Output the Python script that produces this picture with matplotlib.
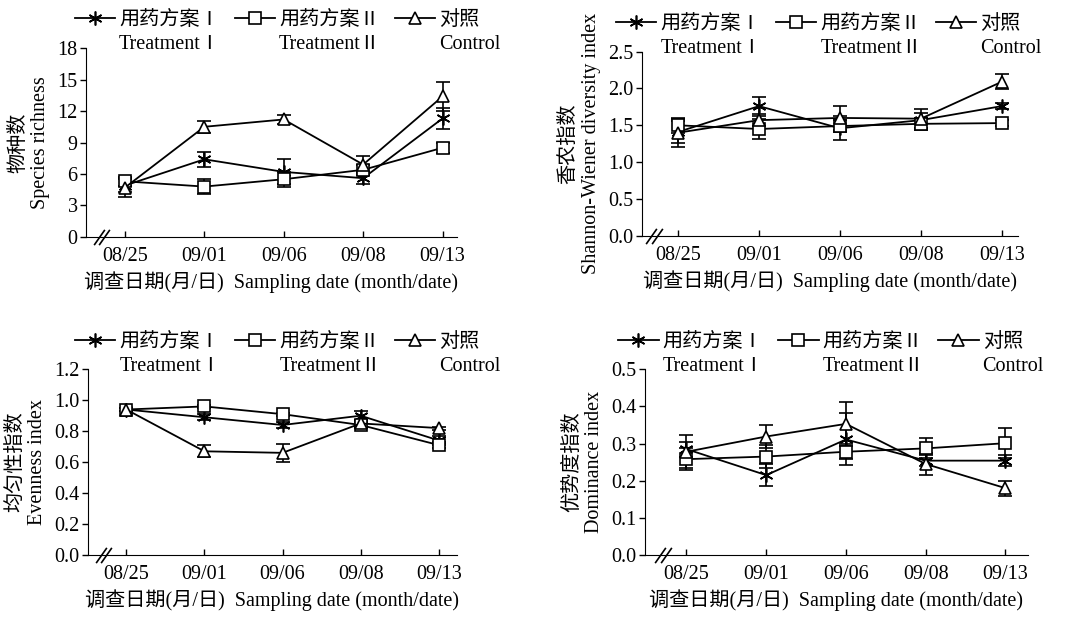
import numpy as np
import matplotlib
matplotlib.use("Agg")
import matplotlib.pyplot as plt
from matplotlib.ticker import FormatStrFormatter

plt.rcParams['font.family'] = ['Liberation Serif', 'Noto Sans CJK SC', 'DejaVu Sans']
plt.rcParams['font.size'] = 14.5

dates = ['08/25', '09/01', '09/06', '09/08', '09/13']
series_cn = ['用药方案Ⅰ', '用药方案Ⅱ', '对照']
series_en = ['TreatmentⅠ', 'TreatmentⅡ', 'Control']

# Species richness
rich_t1 = [4.9, 7.4, 6.2, 5.6, 11.3]
rich_t1_err = [0.6, 0.7, 1.2, 0.6, 1.0]
rich_t2 = [5.3, 4.8, 5.5, 6.4, 8.5]
rich_t2_err = [0.4, 0.7, 0.7, 0.5, 0.5]
rich_ck = [4.7, 10.5, 11.2, 6.9, 13.4]
rich_ck_err = [0.9, 0.6, 0.4, 0.8, 1.4]

# Shannon-Wiener diversity
shan_t1 = [1.41, 1.76, 1.46, 1.57, 1.76]
shan_t1_err = [0.15, 0.13, 0.16, 0.1, 0.04]
shan_t2 = [1.50, 1.45, 1.49, 1.52, 1.53]
shan_t2_err = [0.1, 0.13, 0.08, 0.08, 0.04]
shan_ck = [1.40, 1.57, 1.60, 1.59, 2.09]
shan_ck_err = [0.19, 0.08, 0.16, 0.13, 0.1]

# Evenness
even_t1 = [0.94, 0.89, 0.84, 0.90, 0.74]
even_t1_err = [0.01, 0.02, 0.02, 0.03, 0.03]
even_t2 = [0.94, 0.96, 0.91, 0.84, 0.71]
even_t2_err = [0.01, 0.01, 0.01, 0.02, 0.02]
even_ck = [0.94, 0.67, 0.66, 0.85, 0.82]
even_ck_err = [0.01, 0.04, 0.06, 0.02, 0.01]

# Dominance
dom_t1 = [0.285, 0.215, 0.311, 0.254, 0.254]
dom_t1_err = [0.02, 0.03, 0.07, 0.015, 0.015]
dom_t2 = [0.258, 0.265, 0.278, 0.287, 0.301]
dom_t2_err = [0.03, 0.03, 0.02, 0.027, 0.04]
dom_ck = [0.278, 0.319, 0.353, 0.245, 0.180]
dom_ck_err = [0.045, 0.03, 0.06, 0.03, 0.02]

panels = [
    dict(rect=[0.0802, 0.616, 0.346, 0.306], ylim=(0, 18), yticks=np.arange(0, 19, 3), fmt='%d',
         xlim=(-0.49, 4.18), legx=-0.03, ylabel='物种数\nSpecies richness',
         data=[(rich_t1, rich_t1_err), (rich_t2, rich_t2_err), (rich_ck, rich_ck_err)]),
    dict(rect=[0.5986, 0.6175, 0.351, 0.299], ylim=(0, 2.5), yticks=np.arange(0, 2.51, 0.5), fmt='%.1f',
         xlim=(-0.45, 4.2), legx=-0.068, ylabel='香农指数\nShannon-Wiener diversity index',
         data=[(shan_t1, shan_t1_err), (shan_t2, shan_t2_err), (shan_ck, shan_ck_err)]),
    dict(rect=[0.0821, 0.1005, 0.344, 0.301], ylim=(0, 1.2), yticks=np.arange(0, 1.21, 0.2), fmt='%.1f',
         xlim=(-0.49, 4.23), legx=-0.035, ylabel='均匀性指数\nEvenness index',
         data=[(even_t1, even_t1_err), (even_t2, even_t2_err), (even_ck, even_ck_err)]),
    dict(rect=[0.6017, 0.1005, 0.357, 0.301], ylim=(0, 0.5), yticks=np.arange(0, 0.51, 0.1), fmt='%.1f',
         xlim=(-0.52, 4.28), legx=-0.07, ylabel='优势度指数\nDominance index',
         data=[(dom_t1, dom_t1_err), (dom_t2, dom_t2_err), (dom_ck, dom_ck_err)]),
]

markers = [dict(marker=(6, 2, 0), ms=10, mew=1.2),
           dict(marker='s', ms=8, mew=1.2, mfc='white'),
           dict(marker='^', ms=8, mew=1.2, mfc='white')]

fig = plt.figure(figsize=(10.72, 6.17), dpi=100)
x = np.arange(len(dates))
legends = []
for p in panels:
    ax = fig.add_axes(p['rect'])
    handles = []
    for (vals, err), m in zip(p['data'], markers):
        h = ax.errorbar(x, vals, yerr=err, color='black', lw=1.3, capsize=5, elinewidth=1.2,
                        capthick=1.2, mec='black', clip_on=False, **m)
        handles.append(h[0])
    ax.set_xlim(*p['xlim'])
    ax.set_ylim(*p['ylim'])
    ax.set_yticks(p['yticks'])
    ax.yaxis.set_major_formatter(FormatStrFormatter(p['fmt']))
    ax.set_xticks(x)
    ax.set_xticklabels(dates)
    ax.spines['top'].set_visible(False)
    ax.spines['right'].set_visible(False)
    ax.tick_params(axis='y', direction='out', length=4, width=1, pad=2)
    ax.tick_params(axis='x', direction='in', length=4, width=1, pad=7)
    ax.set_ylabel(p['ylabel'], linespacing=1.25, labelpad=5)
    ax.set_xlabel('调查日期(月/日)  Sampling date (month/date)', labelpad=4)
    # axis break mark
    ax.plot([-0.33, -0.26], [0, 0], transform=ax.get_xaxis_transform(), ls='none',
            marker=[(-0.7, -1), (0.7, 1)], ms=11, mec='black', mew=1.2, clip_on=False)
    leg = ax.legend(handles, series_cn, ncol=3, frameon=False, loc='lower left',
                    bbox_to_anchor=(p['legx'], 1.095), handlelength=2.0, handletextpad=0.2,
                    columnspacing=0.75, borderaxespad=0, borderpad=0)
    legends.append(leg)

fig.canvas.draw()
for leg in legends:
    for t, en in zip(leg.get_texts(), series_en):
        bb = t.get_window_extent()
        fig.text(bb.x0 / fig.bbox.width, (bb.y0 - 5) / fig.bbox.height, en,
                 ha='left', va='top', fontsize=14.5)

fig.savefig('out.png', dpi=100)
